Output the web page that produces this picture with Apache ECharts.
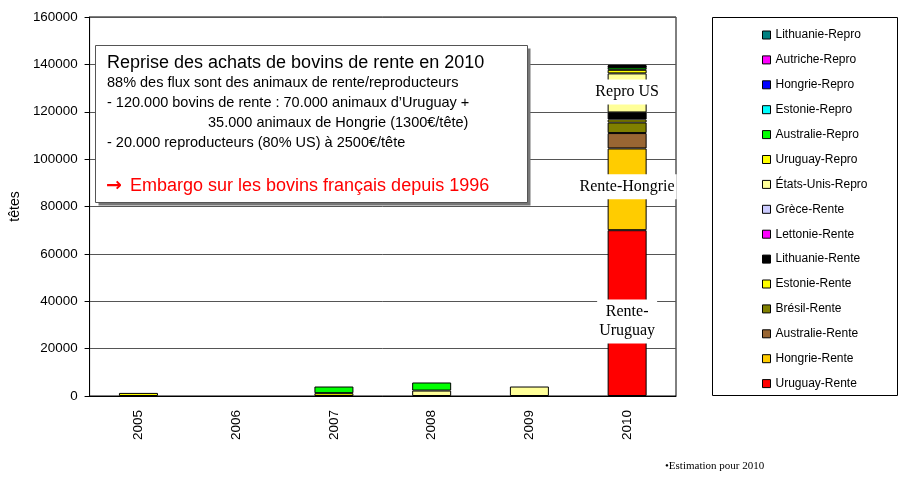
<!DOCTYPE html>
<html>
<head>
<meta charset="utf-8">
<script src="https://cdn.jsdelivr.net/npm/echarts@6/dist/echarts.min.js"></script>
<style>
  html, body { margin: 0; padding: 0; background: #fff; }
  #main { width: 901px; height: 478px; }
</style>
</head>
<body>
<div id="main"></div>
<script>
// années
var years = ['2005', '2006', '2007', '2008', '2009', '2010'];
var yTicks = [0, 20000, 40000, 60000, 80000, 100000, 120000, 140000, 160000];

// séries (ordre d'empilement, du bas vers le haut)
var uruguayRente   = [0, 0, 0, 0, 0, 70000];
var hongrieRente   = [0, 0, 0, 0, 0, 34500];
var australieRente = [0, 0, 0, 0, 0, 6500];
var bresilRente    = [0, 0, 0, 0, 0, 4500];
var estonieRente   = [0, 0, 0, 0, 0, 1200];
var lithuanieRente = [0, 0, 0, 0, 0, 3000];
var lettonieRente  = [0, 0, 0, 0, 0, 0];
var greceRente     = [0, 0, 0, 0, 0, 0];
var usRepro        = [0, 0, 0, 2300, 4000, 16500];
var uruguayRepro   = [1300, 0, 1200, 0, 0, 1500];
var australieRepro = [0, 0, 2800, 3400, 0, 1000];
var estonieRepro   = [0, 0, 0, 0, 0, 200];
var hongrieRepro   = [0, 0, 0, 0, 0, 200];
var autricheRepro  = [0, 0, 0, 0, 0, 200];
var lithuanieRepro = [0, 0, 0, 0, 0, 500];

var seriesDef = [
    ['Uruguay-Rente', uruguayRente, '#FF0000'],
    ['Hongrie-Rente', hongrieRente, '#FFCC00'],
    ['Australie-Rente', australieRente, '#996633'],
    ['Brésil-Rente', bresilRente, '#808000'],
    ['Estonie-Rente', estonieRente, '#FFFF00'],
    ['Lithuanie-Rente', lithuanieRente, '#000000'],
    ['Lettonie-Rente', lettonieRente, '#FF00FF'],
    ['Grèce-Rente', greceRente, '#CCCCFF'],
    ['États-Unis-Repro', usRepro, '#FFFF99'],
    ['Uruguay-Repro', uruguayRepro, '#FFFF00'],
    ['Australie-Repro', australieRepro, '#00FF00'],
    ['Estonie-Repro', estonieRepro, '#00FFFF'],
    ['Hongrie-Repro', hongrieRepro, '#0000FF'],
    ['Autriche-Repro', autricheRepro, '#FF00FF'],
    ['Lithuanie-Repro', lithuanieRepro, '#008080']
];

var sans = '"Liberation Sans", Arial, sans-serif';
var serif = '"Liberation Serif", "Times New Roman", serif';

var myChart = echarts.init(document.getElementById('main'));

var series = seriesDef.map(function (s) {
    return {
        name: s[0],
        type: 'bar',
        stack: 'total',
        barWidth: 39,
        itemStyle: { color: s[2], borderColor: '#000', borderWidth: 1 },
        data: s[1].map(function (v) { return v === 0 ? '-' : v; })
    };
});

var option = {
    animation: false,
    textStyle: { fontFamily: sans },
    grid: {
        left: 87, right: 225, top: 17, bottom: 82,
        show: true, borderColor: '#000', borderWidth: 1
    },
    legend: {
        orient: 'vertical',
        left: 757,
        top: 24,
        itemGap: 12.9,
        itemWidth: 8,
        itemHeight: 8,
        icon: 'rect',
        itemStyle: { borderColor: '#000', borderWidth: 1 },
        textStyle: { fontFamily: sans, fontSize: 12, color: '#000' },
        data: seriesDef.map(function (s) { return s[0]; }).reverse()
    },
    xAxis: {
        type: 'category',
        data: years,
        axisLine: { lineStyle: { color: '#000' } },
        axisTick: { length: 5, lineStyle: { color: '#000' } },
        axisLabel: { rotate: 90, margin: 14, fontSize: 13.5, color: '#000', fontFamily: sans }
    },
    yAxis: {
        type: 'value',
        min: yTicks[0],
        max: yTicks[yTicks.length - 1],
        interval: yTicks[1] - yTicks[0],
        name: 'têtes',
        nameLocation: 'middle',
        nameGap: 59,
        nameTextStyle: { fontSize: 14, color: '#000', fontFamily: sans },
        axisLine: { show: true, lineStyle: { color: '#000' } },
        axisTick: { show: true, length: 5, lineStyle: { color: '#000' } },
        axisLabel: {
            margin: 12, fontSize: 13.4, color: '#000', fontFamily: sans,
            formatter: function (v) { return String(v); }
        },
        splitLine: { lineStyle: { color: '#555', width: 1 } }
    },
    series: series
};

myChart.setOption(option);

// étiquettes ancrées sur la barre 2010
function px(val) {
    return myChart.convertToPixel({ xAxisIndex: 0, yAxisIndex: 0 }, ['2010', val]);
}
var pUS = px(128300);
var pHon = px(88300);
var pUru = px(31500);

function barLabel(p, txt, id) {
    return {
        type: 'text', id: id, x: p[0], y: p[1], z: 100,
        style: {
            text: txt, fontFamily: serif, fontSize: 16, fill: '#000',
            align: 'center', verticalAlign: 'middle', lineHeight: 19,
            backgroundColor: '#fff', padding: [3, 2]
        }
    };
}

var boxLines = [
    { t: 'Reprise des achats de bovins de rente en 2010', y: 63, s: 18, c: '#000', x: 107 },
    { t: '88% des flux sont des animaux de rente/reproducteurs', y: 83, s: 14.5, c: '#000', x: 107 },
    { t: '- 120.000 bovins de rente : 70.000 animaux d’Uruguay +', y: 103, s: 14.5, c: '#000', x: 107 },
    { t: '35.000 animaux de Hongrie (1300€/tête)', y: 123, s: 14.5, c: '#000', x: 208 },
    { t: '- 20.000 reproducteurs (80% US) à 2500€/tête', y: 143, s: 14.5, c: '#000', x: 107 },
    { t: 'Embargo sur les bovins français depuis 1996', y: 186, s: 18, c: '#FF0000', x: 130 }
];

var graphics = [
    {
        type: 'rect', z: 90,
        shape: { x: 712.5, y: 17.5, width: 185, height: 378 },
        style: { fill: 'none', stroke: '#000', lineWidth: 1 }
    },
    {
        type: 'rect', z: 89,
        shape: { x: 98.5, y: 48.5, width: 432, height: 157 },
        style: { fill: '#777' }
    },
    {
        type: 'rect', z: 90,
        shape: { x: 95.5, y: 45.5, width: 432, height: 157 },
        style: { fill: '#fff', stroke: '#555', lineWidth: 1 }
    },
    {
        type: 'text', z: 95, x: 106, y: 186,
        style: { text: '→', fontFamily: '"DejaVu Sans", sans-serif', fontSize: 19, fontWeight: 'bold', fill: '#FF0000', verticalAlign: 'middle' }
    },
    barLabel(pUS, 'Repro US', 'lblUS'),
    barLabel(pHon, 'Rente-Hongrie', 'lblHon'),
    barLabel(pUru, 'Rente-\nUruguay', 'lblUru'),
    {
        type: 'text', z: 100, x: 665, y: 466,
        style: { text: '•Estimation pour 2010', fontFamily: serif, fontSize: 11, fill: '#000', verticalAlign: 'middle' }
    }
];
boxLines.forEach(function (l) {
    graphics.push({
        type: 'text', z: 95, x: l.x, y: l.y,
        style: { text: l.t, fontFamily: sans, fontSize: l.s, fill: l.c, verticalAlign: 'middle' }
    });
});

myChart.setOption({ graphic: graphics });
</script>
</body>
</html>
